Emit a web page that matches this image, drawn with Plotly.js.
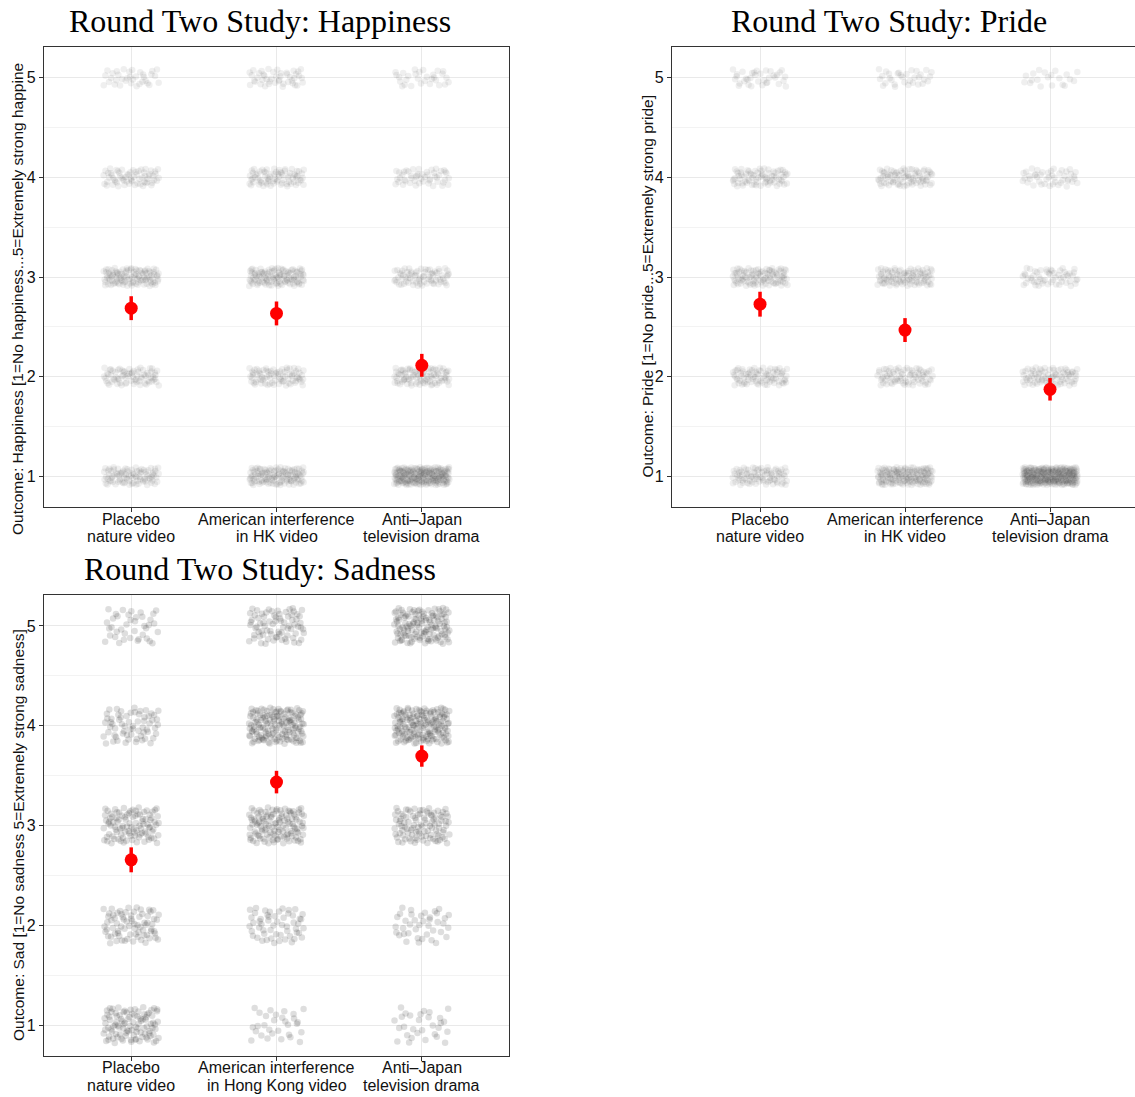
<!DOCTYPE html>
<html>
<head>
<meta charset="utf-8">
<script src="https://cdn.plot.ly/plotly-3.0.1.min.js"></script>
<style>
  html, body { margin: 0; padding: 0; background: #fff; }
  #chart { width: 1135px; height: 1097px; }
</style>
</head>
<body>
<div id="chart"></div>
<script>
// Response scale shared by all three outcomes
const levels = [1, 2, 3, 4, 5];

// Treatment groups (x-axis tick labels, two lines each)
const groupsHK = [['Placebo', 'nature video'], ['American interference', 'in HK video'], ['Anti\u2013Japan', 'television drama']];
const groupsHongKong = [['Placebo', 'nature video'], ['American interference', 'in Hong Kong video'], ['Anti\u2013Japan', 'television drama']];

// Number of respondents at each response level 1..5, one row per group
const happinessCounts = [
  [90, 75, 110, 65, 35],
  [120, 80, 115, 75, 45],
  [215, 90, 75, 50, 30]
];
const prideCounts = [
  [85, 80, 100, 75, 35],
  [150, 75, 95, 80, 32],
  [270, 80, 55, 45, 20]
];
const sadnessCounts = [
  [100, 75, 100, 65, 40],
  [30, 55, 120, 150, 77],
  [30, 40, 100, 160, 130]
];

// Group means and half-widths of their intervals
const happinessMeans = [2.687, 2.634, 2.113];
const happinessErr = [0.12, 0.12, 0.115];
const prideMeans = [2.727, 2.467, 1.872];
const prideErr = [0.125, 0.12, 0.113];
const sadnessMeans = [2.656, 3.435, 3.696];
const sadnessErr = [0.125, 0.113, 0.107];

// Low-discrepancy sequence used to spread overlapping responses (jitter)
function halton(i, b) {
  let f = 1, r = 0;
  while (i > 0) { f /= b; r += f * (i % b); i = Math.floor(i / b); }
  return r;
}

function jitterCloud(counts, jw, jh, seed) {
  const xs = [], ys = [];
  counts.forEach((row, g) => {
    row.forEach((n, l) => {
      for (let k = 0; k < n; k++) {
        const idx = seed + g * 1013 + l * 257 + (k + 1) * 7919;
        xs.push(g + 1 + (2 * halton(idx, 2) - 1) * jw);
        ys.push(levels[l] + (2 * halton(idx, 3) - 1) * jh);
      }
    });
  });
  return { xs, ys };
}

const W = 1135, H = 1097;
const px = v => v / W;
const py = v => 1 - v / H;

function cloudTrace(counts, jw, jh, seed, alpha, xa, ya) {
  const c = jitterCloud(counts, jw, jh, seed);
  return {
    type: 'scatter', mode: 'markers', x: c.xs, y: c.ys, xaxis: xa, yaxis: ya,
    marker: { size: 6.5, color: 'rgba(0,0,0,' + alpha + ')', line: { width: 0 } },
    hoverinfo: 'skip', showlegend: false
  };
}

function meanTrace(means, errs, xa, ya) {
  return {
    type: 'scatter', mode: 'markers', x: [1, 2, 3], y: means, xaxis: xa, yaxis: ya,
    marker: { size: 13, color: '#ff0000', line: { width: 0 } },
    error_y: { type: 'data', array: errs, visible: true, color: '#ff0000', thickness: 3.5, width: 0 },
    showlegend: false
  };
}

const data = [
  cloudTrace(happinessCounts, 0.19, 0.09, 11, 0.062, 'x', 'y'),
  meanTrace(happinessMeans, happinessErr, 'x', 'y'),
  cloudTrace(prideCounts, 0.19, 0.09, 503, 0.062, 'x2', 'y2'),
  meanTrace(prideMeans, prideErr, 'x2', 'y2'),
  cloudTrace(sadnessCounts, 0.19, 0.18, 2027, 0.13, 'x3', 'y3'),
  meanTrace(sadnessMeans, sadnessErr, 'x3', 'y3')
];

const tickFont = { family: 'Liberation Sans, Arial, sans-serif', size: 16, color: '#111' };

function xAxis(domain, range, anchor) {
  return {
    domain, range, anchor, tickvals: [1, 2, 3], showticklabels: false,
    showgrid: true, gridcolor: '#e9e9e9', gridwidth: 1, zeroline: false,
    showline: true, linecolor: '#333', linewidth: 1.2, mirror: true,
    ticks: 'outside', ticklen: 4, tickcolor: '#333', fixedrange: true
  };
}
function yAxis(domain, anchor, mirror) {
  return {
    domain, range: [0.69, 5.31], anchor, tickvals: levels,
    showgrid: true, gridcolor: '#e9e9e9', gridwidth: 1, zeroline: false,
    minor: { dtick: 0.5, tick0: 0, showgrid: true, gridcolor: '#f3f3f3', gridwidth: 1 },
    showline: true, linecolor: '#333', linewidth: 1.2, mirror,
    ticks: 'outside', ticklen: 4, tickcolor: '#333', tickfont: tickFont, fixedrange: true
  };
}

const titleFont = { family: 'Liberation Serif, Times New Roman, serif', size: 32, color: '#000' };
const axTitleFont = { family: 'Liberation Sans, Arial, sans-serif', size: 15.5, color: '#111' };

// Two-line category labels under each panel, placed on the panel's x scale
function groupLabels(groups, xref, yLine1, yLine2) {
  const out = [];
  groups.forEach((g, i) => {
    [yLine1, yLine2].forEach((yy, j) => {
      out.push({ text: g[j], xref, yref: 'paper', x: i + 1, y: py(yy), xanchor: 'center', yanchor: 'middle', showarrow: false, font: tickFont });
    });
  });
  return out;
}

const layout = {
  width: W, height: H, autosize: false,
  margin: { l: 0, r: 0, t: 0, b: 0 },
  paper_bgcolor: '#fff', plot_bgcolor: '#fff',
  showlegend: false,
  xaxis: xAxis([px(44), px(509)], [0.4, 3.6], 'y'),
  yaxis: yAxis([py(507), py(47)], 'x', true),
  xaxis2: xAxis([px(672), 1], [0.393, 3.586], 'y2'),
  yaxis2: yAxis([py(507), py(47)], 'x2', false),
  xaxis3: xAxis([px(44), px(509)], [0.4, 3.6], 'y3'),
  yaxis3: yAxis([py(1056), py(595)], 'x3', true),
  annotations: [
    { text: 'Round Two Study: Happiness', xref: 'paper', yref: 'paper', x: px(260), y: py(21), xanchor: 'center', yanchor: 'middle', showarrow: false, font: titleFont },
    { text: 'Round Two Study: Pride', xref: 'paper', yref: 'paper', x: px(889), y: py(21), xanchor: 'center', yanchor: 'middle', showarrow: false, font: titleFont },
    { text: 'Round Two Study: Sadness', xref: 'paper', yref: 'paper', x: px(260), y: py(569), xanchor: 'center', yanchor: 'middle', showarrow: false, font: titleFont },
    { text: 'Outcome: Happiness [1=No happiness...5=Extremely strong happine', xref: 'paper', yref: 'paper', x: px(18), y: py(537), xanchor: 'center', yanchor: 'bottom', textangle: -90, showarrow: false, font: axTitleFont },
    { text: 'Outcome: Pride [1=No pride...5=Extremely strong pride]', xref: 'paper', yref: 'paper', x: px(647), y: py(479), xanchor: 'center', yanchor: 'bottom', textangle: -90, showarrow: false, font: axTitleFont },
    { text: 'Outcome: Sad [1=No sadness 5=Extremely strong sadness]', xref: 'paper', yref: 'paper', x: px(18), y: py(1043), xanchor: 'center', yanchor: 'bottom', textangle: -90, showarrow: false, font: axTitleFont }
  ].concat(
    groupLabels(groupsHK, 'x', 519, 537),
    groupLabels(groupsHK, 'x2', 519, 537),
    groupLabels(groupsHongKong, 'x3', 1067, 1085)
  )
};

Plotly.newPlot('chart', data, layout, { displayModeBar: false, staticPlot: true });
</script>
</body>
</html>
